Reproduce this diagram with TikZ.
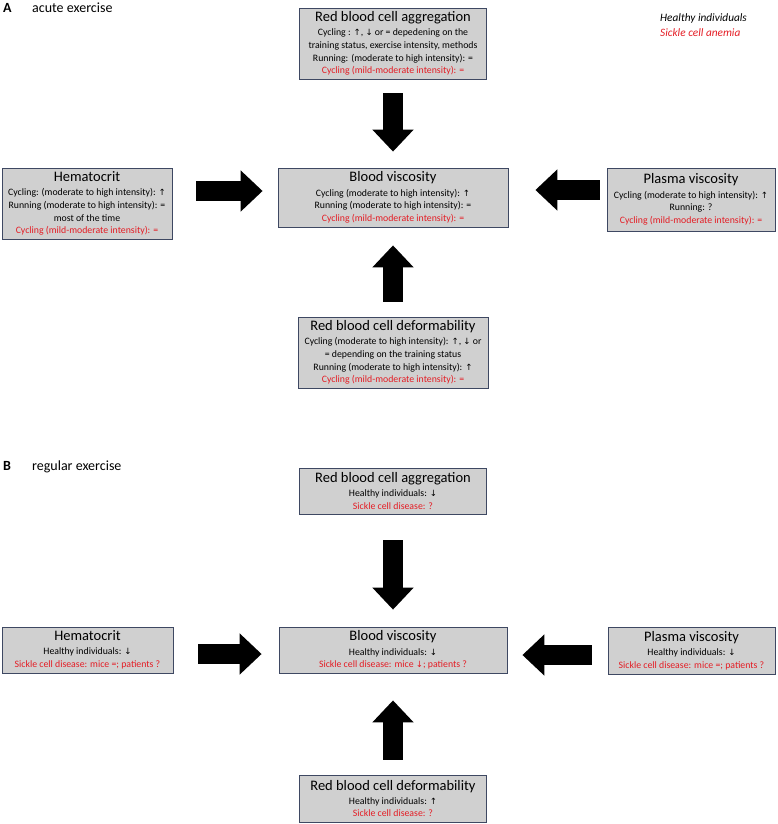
\documentclass[tikz,border=0pt]{standalone}
\usepackage{fontspec}
\setmainfont{Carlito}
\newfontfamily\symfont{DejaVu Sans}
\usetikzlibrary{arrows.meta}

\definecolor{boxgray}{RGB}{208,208,208}
\definecolor{boxline}{RGB}{62,72,98}
\definecolor{scared}{RGB}{228,28,36}

\newcommand{\arrup}{{\symfont\fontsize{8.6}{12}\selectfont ↑}}
\newcommand{\arrdn}{{\symfont\fontsize{8.6}{12}\selectfont ↓}}
\newcommand{\sca}[1]{\textcolor{scared}{#1}}
\newcommand{\boxtitle}[1]{{\fontsize{14.5}{15}\selectfont #1}\\[1.5pt]}

\tikzset{
  factor/.style={draw=boxline, fill=boxgray, line width=0.8pt, align=center,
    font=\fontsize{9.8}{12.7}\selectfont, inner sep=1pt},
  bigarrow/.style={line width=20pt, -{Triangle[width=40pt,length=22pt]}},
  panel/.style={anchor=base west, inner sep=0pt, font=\fontsize{14}{16}\selectfont},
  legend/.style={anchor=base west, inner sep=0pt, font=\fontsize{11.3}{13}\selectfont\itshape},
}

\begin{document}
\begin{tikzpicture}[x=1pt, y=-1pt]
  \useasboundingbox (0,0) rectangle (777,824);

  % --- panel labels and legend ---
  \node[panel, font=\fontsize{14}{16}\selectfont\bfseries] (labA) at (3,13) {A};
  \node[panel] (headA) at (32,13) {acute exercise};
  \node[panel, font=\fontsize{14}{16}\selectfont\bfseries] (labB) at (3,470) {B};
  \node[panel] (headB) at (32,470) {regular exercise};
  \node[legend] (healthy) at (660,22) {Healthy individuals};
  \node[legend, text=scared] (sickle) at (660,37) {Sickle cell anemia};

  % --- A: acute exercise ---
  \node[factor, minimum width=187pt, minimum height=71pt] (aggA) at (393,43.5)
    {\boxtitle{Red blood cell aggregation}
     Cycling : \arrup, \arrdn{} or = depedening on the\\
     training status, exercise intensity, methods\\
     Running: (moderate to high intensity): =\\
     \sca{Cycling (mild-moderate intensity): =}};
  \node[factor, minimum width=170pt, minimum height=71pt] (hctA) at (87,203.5)
    {\boxtitle{Hematocrit}
     Cycling: (moderate to high intensity): \arrup\\
     Running (moderate to high intensity): =\\
     most of the time\\
     \sca{Cycling (mild-moderate intensity): =}};
  \node[factor, minimum width=230pt, minimum height=59pt] (bloodA) at (393,197.5)
    {\boxtitle{Blood viscosity}
     Cycling (moderate to high intensity): \arrup\\
     Running (moderate to high intensity): =\\
     \sca{Cycling (mild-moderate intensity): =}};
  \node[factor, minimum width=168pt, minimum height=63pt] (plasmaA) at (691,199.5)
    {\boxtitle{Plasma viscosity}
     Cycling (moderate to high intensity): \arrup\\
     Running: ?\\
     \sca{Cycling (mild-moderate intensity): =}};
  \node[factor, minimum width=190pt, minimum height=71pt] (deformA) at (393,352.5)
    {\boxtitle{Red blood cell deformability}
     Cycling (moderate to high intensity): \arrup, \arrdn{} or\\
     = depending on the training status\\
     Running (moderate to high intensity): \arrup\\
     \sca{Cycling (mild-moderate intensity): =}};

  % --- B: regular exercise ---
  \node[factor, minimum width=187pt, minimum height=46pt] (aggB) at (393,491)
    {\boxtitle{Red blood cell aggregation}
     Healthy individuals: \arrdn\\
     \sca{Sickle cell disease: ?}};
  \node[factor, minimum width=171pt, minimum height=46pt] (hctB) at (87.5,650)
    {\boxtitle{Hematocrit}
     Healthy individuals: \arrdn\\
     \sca{Sickle cell disease: mice =; patients ?}};
  \node[factor, minimum width=228pt, minimum height=46pt] (bloodB) at (393,650)
    {\boxtitle{Blood viscosity}
     Healthy individuals: \arrdn\\
     \sca{Sickle cell disease: mice \arrdn; patients ?}};
  \node[factor, minimum width=167pt, minimum height=47pt] (plasmaB) at (691.5,650.5)
    {\boxtitle{Plasma viscosity}
     Healthy individuals: \arrdn\\
     \sca{Sickle cell disease: mice =; patients ?}};
  \node[factor, minimum width=187pt, minimum height=47pt] (deformB) at (393,798.5)
    {\boxtitle{Red blood cell deformability}
     Healthy individuals: \arrup\\
     \sca{Sickle cell disease: ?}};

  % --- vertical block arrows ---
  \foreach \from/\to/\s/\e in {aggA.south/bloodA.north/14/16, deformA.north/bloodA.south/15/18,
                               aggB.south/bloodB.north/26/17, deformB.north/bloodB.south/15/27} {
    \draw[bigarrow, shorten <=\s pt, shorten >=\e pt] (\from) -- (\to);
  }

  % --- horizontal block arrows ---
  \foreach \from/\to/\dy/\s/\e in {hctA.east/bloodA.west/12.5/24/15, plasmaA.west/bloodA.east/9.5/7/27,
                                   hctB.east/bloodB.west/-4/25/17, plasmaB.west/bloodB.east/-4.5/16/15} {
    \coordinate (start) at ([yshift=\dy pt]\from);
    \draw[bigarrow, shorten <=\s pt, shorten >=\e pt] (start) -- (start -| \to);
  }
\end{tikzpicture}
\end{document}
